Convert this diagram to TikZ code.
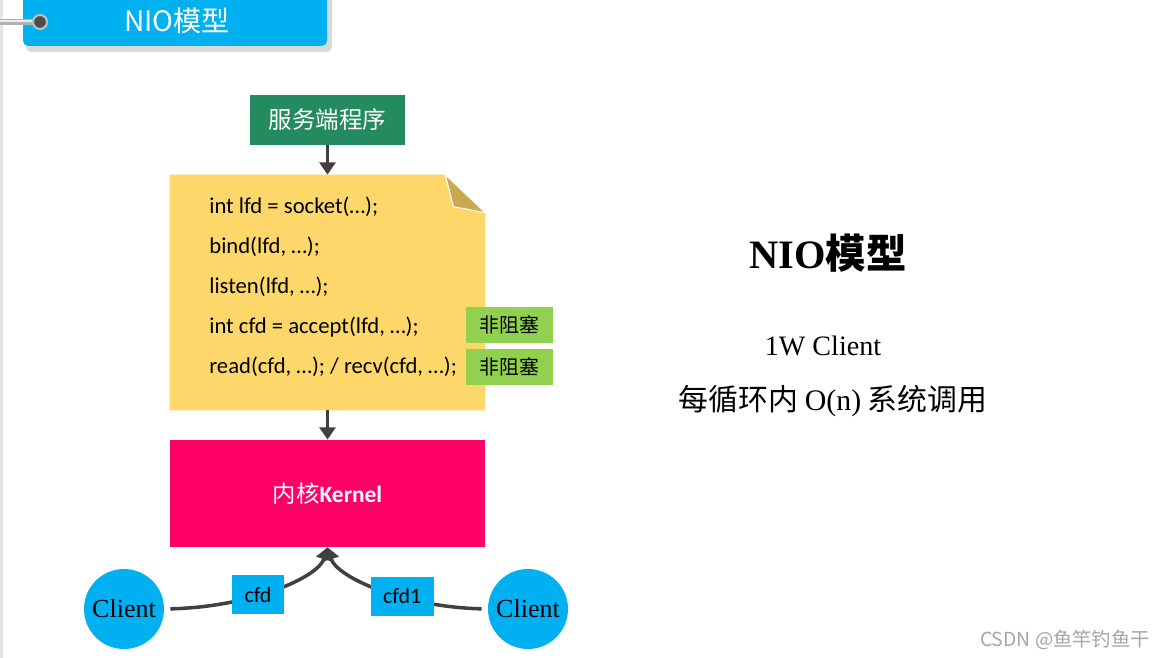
\documentclass[tikz,border=0pt]{standalone}
\usepackage{fontspec}
\setmainfont{Carlito}
\newfontfamily\cjk{Noto Sans CJK SC}
\newfontfamily\serif{Liberation Serif}
\usetikzlibrary{positioning,arrows.meta}
\definecolor{tabblue}{HTML}{00B0F0}
\definecolor{srvgreen}{HTML}{248A60}
\definecolor{noteyel}{HTML}{FDD76A}
\definecolor{foldyel}{HTML}{C9A94F}
\definecolor{nbgreen}{HTML}{92D050}
\definecolor{kerpink}{HTML}{FF0066}
\definecolor{arrgray}{HTML}{404040}
\begin{document}
\begin{tikzpicture}[>={Triangle[length=7pt,width=9pt]},x=0.02cm,y=-0.02cm,
	box/.style={inner sep=0pt,text=white},
	codeline/.style={anchor=west,inner sep=0pt,font=\fontsize{12.9}{14}\selectfont},
	nbbox/.style={fill=nbgreen,minimum width=1.74cm,minimum height=0.72cm,inner sep=0pt,font=\cjk\fontsize{11.3}{13}\selectfont},
	client/.style={circle,fill=tabblue,minimum size=1.6cm,inner sep=0pt,font=\serif\fontsize{14.8}{16}\selectfont},
	fdbox/.style={fill=tabblue,text=black,minimum height=0.78cm,inner xsep=0.25cm,inner ysep=0pt,font=\fontsize{12.5}{14}\selectfont},
	flow/.style={->,arrgray,line width=2.2pt},
	link/.style={->,arrgray,line width=2pt}]
		\useasboundingbox (0,0) rectangle (1166,658);
		\fill[white] (0,0) rectangle (1166,658);
		\fill[gray!20] (0,0) rectangle (3,658);
		% title tab
		\fill[gray!30,rounded corners=3pt] (26,-8) rectangle (332,52);
		\fill[tabblue,rounded corners=3pt] (23,-8) rectangle (327,46);
		\node[box,font=\cjk\fontsize{16}{18}\selectfont] (tab) at (177,21) {NIO模型};
		\draw[gray!60,line width=3pt] (0,22) -- (40,22);
		\draw[gray!15,line width=0.8pt] (0,21) -- (40,21);
		\filldraw[fill=black!70,draw=gray!50,line width=1.2pt] (40,22) circle (0.14cm);
		% server program
		\node[box,fill=srvgreen,minimum width=3.1cm,minimum height=1cm,font=\cjk\fontsize{13.4}{16}\selectfont] (srv) at (327.5,120) {服务端程序};
		\node[minimum width=6.3cm,minimum height=4.7cm,inner sep=0pt] (code) at (327.5,292.5) {};
		\fill[noteyel] (code.north west) -- ([xshift=-0.8cm]code.north east) -- ([yshift=-0.76cm]code.north east) -- (code.south east) -- (code.south west) -- cycle;
		\filldraw[fill=foldyel,draw=white,line width=0.6pt] ([xshift=-0.8cm]code.north east) -- ([xshift=-0.64cm,yshift=-0.64cm]code.north east) -- ([yshift=-0.76cm]code.north east) -- cycle;
		\foreach \txt [count=\i] in {{int lfd = socket(…);},{bind(lfd, …);},{listen(lfd, …);},{int cfd = accept(lfd, …);},{read(cfd, …); / recv(cfd, …);}}
			\node[codeline] (l\i) at (209,167+40*\i) {\txt};
		\node[nbbox] (nb1) at (509.5,325) {非阻塞};
		\node[nbbox] (nb2) at (509.5,367) {非阻塞};
		% kernel
		\node[box,fill=kerpink,minimum width=6.3cm,minimum height=2.14cm,font=\fontsize{13.3}{15}\selectfont] (kernel) at (327.5,493.5) {{\cjk 内核}\textbf{Kernel}};
		\draw[flow] (srv.south) -- (code.north);
		\draw[flow] (code.south) -- (kernel.north);
		% clients
		\node[client] (c1) at (124,609) {Client};
		\node[client] (c2) at (528,609) {Client};
		\draw[link,shorten <=0.12cm] (c1.east) .. controls (250,607) and (318,578) .. (kernel.south) node[fdbox,pos=0.41] (fd1) {cfd};
		\draw[link,shorten <=0.12cm] (c2.west) .. controls (405,607) and (337,578) .. (kernel.south) node[fdbox,pos=0.38] (fd2) {cfd1};
		% notes
		\node[font=\serif\bfseries\fontsize{23}{26}\selectfont] (t1) at (828,253) {NIO{\cjk\bfseries 模型}};
		\node[font=\serif\fontsize{16}{18}\selectfont] (t2) at (823,346) {1W Client};
		\node[font=\fontsize{17}{20}\selectfont] (t3) at (833,401) {{\cjk 每循环内} {\serif O(n)} {\cjk 系统调用}};
		\node[text=gray!70,font=\cjk\fontsize{11}{13}\selectfont] (wm) at (1065,640) {CSDN @鱼竿钓鱼干};
		\end{tikzpicture}
\end{document}
